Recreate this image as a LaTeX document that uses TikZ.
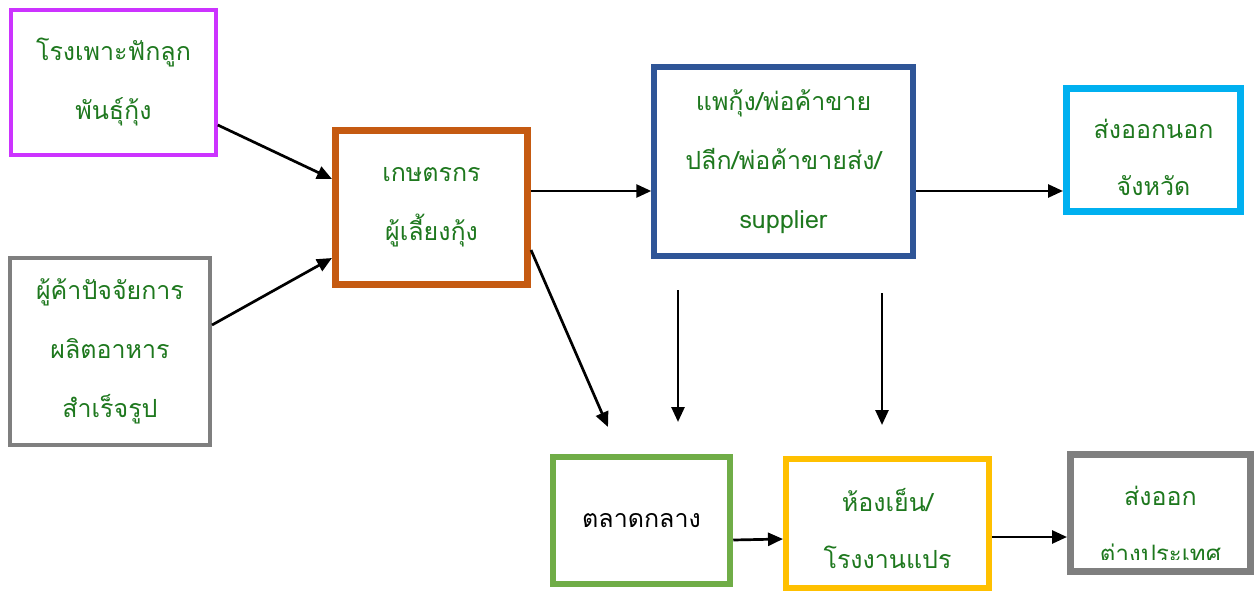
\documentclass[tikz,border=0pt]{standalone}
\usepackage{fontspec}
\newfontfamily\thaifont[Script=Thai]{Loma}
\usetikzlibrary{arrows.meta,calc}
\definecolor{txtgreen}{RGB}{30,120,30}
\definecolor{cpurple}{RGB}{204,51,255}
\definecolor{cgray}{RGB}{127,127,127}
\definecolor{corange}{RGB}{197,90,17}
\definecolor{cblue}{RGB}{47,85,151}
\definecolor{ccyan}{RGB}{0,176,240}
\definecolor{cgreen}{RGB}{112,173,71}
\definecolor{cyellow}{RGB}{255,192,0}
\tikzset{
  box/.style={draw, fill=white, inner sep=0pt, align=center, text=txtgreen,
    font=\thaifont\fontsize{25}{59}\selectfont},
  boxtext/.style={text=txtgreen, inner sep=0pt, align=center,
    font=\thaifont\fontsize{25}{57}\selectfont},
  arr/.style={draw=black, line width=2.7pt, -{Triangle[length=15pt,width=13pt]}},
}
\begin{document}
\begin{tikzpicture}[x=1pt,y=-1pt]
\useasboundingbox[fill=white] (0,0) rectangle (1258,591);

\node[box, draw=cpurple, line width=3.5pt, minimum width=205pt, minimum height=145pt] (hatch) at (113.5,82.5) {โรงเพาะฟักลูก\\พันธุ์กุ้ง};
\node[box, draw=cgray, line width=4pt, minimum width=200pt, minimum height=187pt] (feed) at (110,351.5) {ผู้ค้าปัจจัยการ\\ผลิตอาหาร\\สำเร็จรูป};
\node[box, draw=corange, line width=7pt, minimum width=192pt, minimum height=154pt] (farmer) at (431.5,207.5) {เกษตรกร\\ผู้เลี้ยงกุ้ง};
\node[box, draw=cblue, line width=5.5pt, minimum width=259pt, minimum height=189pt] (trader) at (783.5,161.5) {แพกุ้ง/พ่อค้าขาย\\ปลีก/พ่อค้าขายส่ง/\\supplier};
\node[box, draw=ccyan, line width=7pt, minimum width=174pt, minimum height=123pt] (export1) at (1153.5,150) {};
\node[boxtext] (export1t) at (1153.5,157) {ส่งออกนอก\\จังหวัด};
\node[box, draw=cgreen, line width=6.5pt, minimum width=177pt, minimum height=127pt, text=black] (market) at (641.5,520.5) {ตลาดกลาง};
\node[box, draw=cyellow, line width=6pt, minimum width=203pt, minimum height=129pt] (cold) at (887.5,523.5) {};
\node[boxtext] (coldt) at (887.5,529) {ห้องเย็น/\\โรงงานแปร};
\node[box, draw=cgray, line width=7pt, minimum width=180pt, minimum height=117pt] (export2) at (1160.5,513) {};
\node[boxtext] (export2a) at (1160.5,496) {ส่งออก};
\begin{scope}
\clip (1075,520) rectangle (1247,559);
\node[boxtext, font=\thaifont\fontsize{24}{30}\selectfont] (export2b) at (1160.5,553) {ต่างประเทศ};
\end{scope}

\coordinate (d1) at (608,427);
\coordinate (v1s) at (678,290);
\coordinate (v1e) at (678,422);
\coordinate (v2s) at (882,293);
\coordinate (v2e) at (882,425);

\draw[arr] (hatch.east |- 0,125) -- (farmer.west |- 0,179);
\draw[arr] (feed.east |- 0,325) -- (farmer.west |- 0,258);
\draw[arr] (farmer.east |- 0,191) -- (trader.west |- 0,191);
\draw[arr] (farmer.east |- 0,250) -- (d1);
\draw[arr] (v1s) -- (v1e);
\draw[arr] (v2s) -- (v2e);
\draw[arr] (trader.east |- 0,191) -- (export1.west |- 0,191);
\draw[arr] (market.east |- 0,540) -- (cold.west |- 0,539);
\draw[arr] (cold.east |- 0,537) -- (export2.west |- 0,537);
\end{tikzpicture}
\end{document}
